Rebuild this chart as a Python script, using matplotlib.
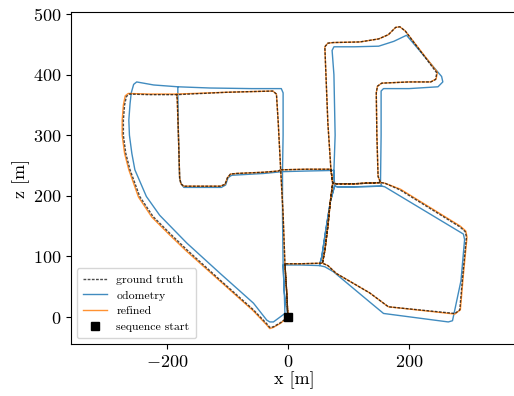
import matplotlib
matplotlib.use('Agg')
import matplotlib.pyplot as plt

# trajectory waypoints (x, z in metres)
gt_x = [0, -2, -5, 20, 57, 61, 66, 70, 74, 71,
        66, 62, 61, 66, 75, 119, 150, 166, 178, 185, 194, 246, 244, 236, 200, 155, 148, 146, 147, 149, 153,
        160, 185, 284, 293, 295, 289, 284, 276, 166, 135, 80, 66, 57,
        61, 66, 70, 74, 80, 110, 153, 110, 80, 74, 71, 30, -12, -8, -5, -2, 0,
        -12, -24, -30, -35, -57, -112, -167, -195, -223, -245, -261, -268, -272, -272, -270, -267, -262,
        -230, -184,
        -183, -181, -179, -177, -172, -140, -112, -104, -100, -95, -85, -40, -16, -12,
        -16, -19, -25, -100, -184]
gt_z = [0, 40, 88, 88, 89, 110, 150, 190, 221, 244,
        320, 420, 446, 452, 453, 454, 459, 466, 478, 479, 472, 403, 392, 388, 388, 386, 381, 370, 300, 232, 222,
        221, 210, 149, 141, 132, 70, 12, 6, 17, 40, 72, 85, 89,
        110, 150, 190, 221, 220, 220, 222, 220, 220, 221, 244, 244, 243, 170, 88, 40, 0,
        -9, -16, -17, -11, 12, 61, 111, 138, 166, 199, 243, 270, 300, 325, 350, 364, 368,
        367, 367,
        360, 300, 230, 220, 216, 216, 216, 219, 230, 236, 237, 239, 241, 243,
        320, 368, 373, 371, 367]

odo_x = [0, -6, -8, 20, 52, 56, 62, 70, 77, 76,
         78, 76, 73, 76, 110, 150, 175, 196, 254, 256, 248, 200, 158, 154, 154, 153, 155,
         160, 290, 292, 286, 272, 265, 158, 135, 75, 61, 52,
         56, 62, 70, 77, 82, 110, 155, 110, 82, 77, 76, 30, -9, -9, -8, -6, -5,
         -24, -30, -35, -57, -112, -167, -212, -234, -253, -258, -262, -263, -261, -259, -255, -250,
         -222, -182,
         -182, -181, -179, -176, -172, -110, -103, -99, -93, -40, -9,
         -8, -8, -11, -60, -129, -182]
odo_z = [0, 40, 86, 86, 85, 100, 140, 190, 216, 242,
         300, 400, 440, 446, 446, 447, 455, 465, 397, 388, 380, 377, 377, 373, 300, 222, 216,
         215, 137, 128, 60, -6, -8, 6, 25, 75, 83, 85,
         100, 140, 190, 216, 215, 215, 216, 215, 215, 216, 242, 241, 240, 170, 86, 40, 6,
         -8, -8, -5, 23, 72, 122, 168, 199, 243, 270, 300, 325, 352, 370, 384, 388,
         383, 380,
         370, 300, 228, 219, 214, 214, 218, 230, 234, 237, 240,
         300, 370, 377, 377, 378, 380]

ref_x = [0, -2, -5, 20, 57, 61, 66, 70, 74, 71,
         66, 62, 61, 66, 75, 119, 150, 166, 178, 185, 194, 247, 245, 236, 200, 155, 148, 146, 147, 149, 153,
         160, 186, 285, 294, 296, 290, 285, 276, 166, 135, 80, 66, 57,
         61, 66, 70, 74, 80, 110, 153, 110, 80, 74, 71, 30, -12, -8, -5, -2, 0,
         -12, -24, -30, -36, -58, -113, -169, -197, -225, -247, -263, -270, -274, -274, -272, -269, -264,
         -230, -184,
         -183, -181, -179, -177, -172, -140, -112, -104, -100, -95, -85, -40, -16, -12,
         -16, -19, -25, -100, -184]
ref_z = [0, 40, 88, 88, 89, 110, 150, 190, 221, 244,
         320, 420, 446, 452, 453, 454, 459, 466, 478, 479, 472, 404, 393, 388, 388, 386, 381, 370, 300, 232, 222,
         221, 211, 150, 142, 132, 70, 12, 5, 17, 40, 72, 85, 89,
         110, 150, 190, 221, 220, 220, 222, 220, 220, 221, 244, 244, 243, 170, 88, 40, 0,
         -10, -17, -19, -12, 11, 60, 110, 137, 165, 198, 243, 270, 300, 325, 350, 365, 369,
         368, 368,
         360, 300, 230, 220, 216, 216, 216, 219, 230, 236, 237, 239, 241, 243,
         320, 368, 373, 371, 368]

start_x = [0]
start_z = [0]

plt.rcParams['font.family'] = 'serif'
plt.rcParams['font.serif'] = ['cmr10']
plt.rcParams['mathtext.fontset'] = 'cm'
plt.rcParams['axes.formatter.use_mathtext'] = True
plt.rcParams['axes.unicode_minus'] = True

fig = plt.figure(figsize=(5.14, 3.96), dpi=100)
ax = fig.add_axes([0.138, 0.131, 0.871, 0.839])

ax.plot(gt_x, gt_z, color='k', ls='--', lw=1.0, dashes=(2, 1), alpha=0.7, label='ground truth', zorder=4)
ax.plot(odo_x, odo_z, color='C0', lw=1.0, alpha=0.85, label='odometry', zorder=2)
ax.plot(ref_x, ref_z, color='C1', lw=1.0, alpha=0.85, label='refined', zorder=3)
ax.plot(start_x, start_z, 's', color='k', ms=6, ls='none', label='sequence start', zorder=5)

ax.set_xlim(-358.7, 381.3)
ax.set_ylim(-44.6, 503.6)
ax.set_xticks([-200, 0, 200])
ax.set_yticks([0, 100, 200, 300, 400, 500])
ax.tick_params(labelsize=13)
ax.set_xlabel('x [m]', fontsize=13, labelpad=1)
ax.set_ylabel('z [m]', fontsize=13, labelpad=2)

ax.legend(loc='lower left', fontsize=8.5, handlelength=2.0, handletextpad=0.8,
          borderpad=0.55, labelspacing=0.45)

fig.savefig('out.png', dpi=100)
